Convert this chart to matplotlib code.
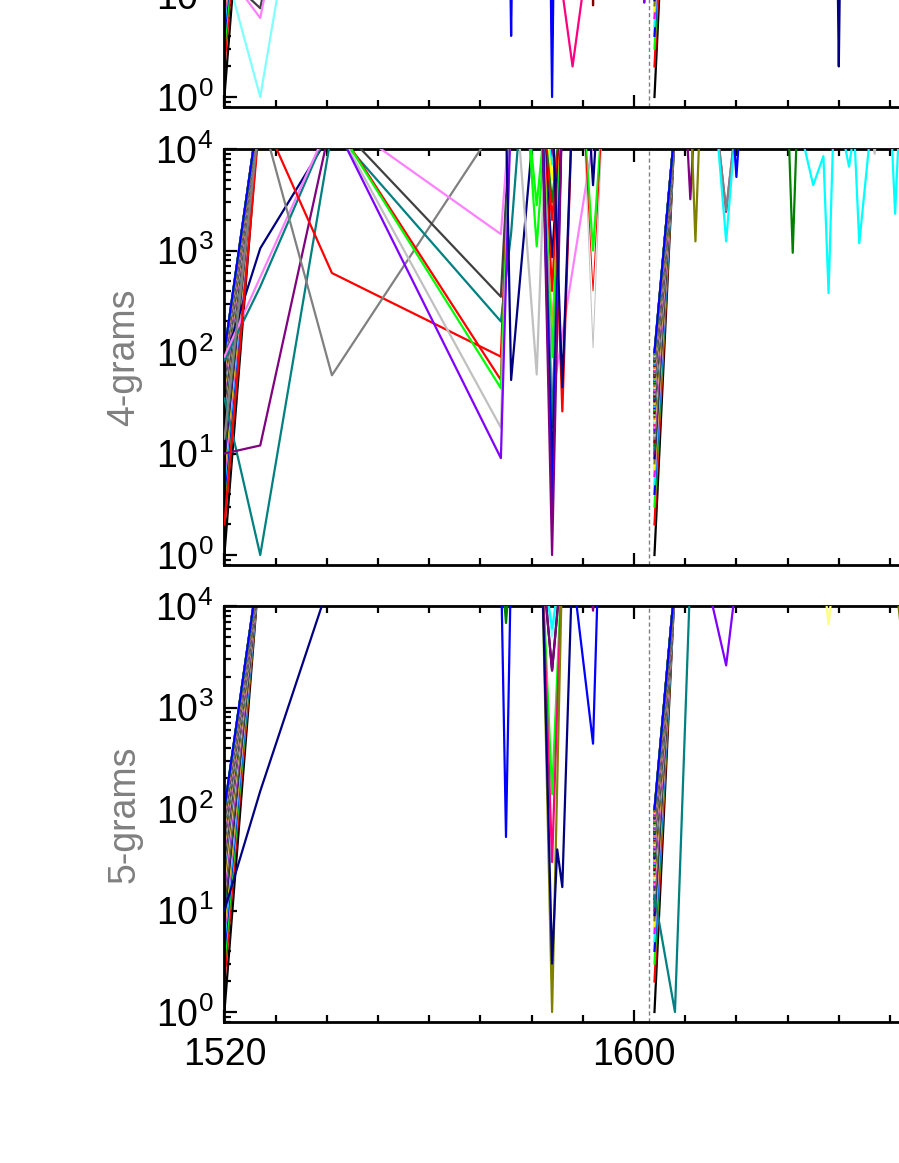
import numpy as np
import matplotlib
matplotlib.use('Agg')
import matplotlib.pyplot as plt
from matplotlib.ticker import FixedLocator, MultipleLocator, LogLocator, FuncFormatter, NullFormatter

plt.rcParams['font.family'] = ['Liberation Sans', 'DejaVu Sans']
plt.rcParams['mathtext.fontset'] = 'custom'
plt.rcParams['mathtext.rm'] = 'Liberation Sans'
plt.rcParams['mathtext.it'] = 'Liberation Sans:italic'
plt.rcParams['mathtext.bf'] = 'Liberation Sans:bold'

# ---------------- data ----------------
panel_names = ['3-grams', '4-grams', '5-grams']
x_major = [1520, 1600, 1680]
y_decades = [1, 10, 100, 1000, 10000]
marker_year = 1603

# colour cycle used for the ranked lines
palette_names = ['black', 'red', 'lime', 'blue', 'cyan', 'magenta', 'yellow', 'olive',
                 'navy', 'purple', 'teal', 'darkgreen', 'maroon', 'grey', 'silver',
                 'darkgrey', 'violet', 'pink', 'deeppink', 'lightcyan', 'lightyellow',
                 'orange', 'brown', 'lightgreen']

# ranks of the top-100 n-grams in the two reference years (1520 and 1604)
fan_ranks = [1, 2, 3, 4, 5, 6, 7, 8, 9, 10, 11, 12, 13, 14, 15, 16, 17, 18, 19, 20,
             21, 22, 23, 24, 25, 26, 27, 28, 29, 30, 31, 32, 33, 34, 35, 36, 37, 38, 39, 40,
             41, 42, 43, 44, 45, 46, 47, 48, 49, 50, 51, 52, 53, 54, 55, 56, 57, 58, 59, 60,
             61, 62, 63, 64, 65, 66, 67, 68, 69, 70, 71, 72, 73, 74, 75, 76, 77, 78, 79, 80,
             81, 82, 83, 84, 85, 86, 87, 88, 89, 90, 91, 92, 93, 94, 95, 96, 97, 98, 99, 100]
fan_a_years = [1520, 1527]
fan_a_next = 3.0e4
fan_b_years = [1604, 1608]
fan_b_next = 1.7e4

# ---- 3-grams: individual trajectories ----
g3_years = [[1520, 1527, 1541], [1520, 1527, 1541], [1520, 1527, 1541],
            [1575, 1576, 1577], [1585, 1586, 1587], [1583, 1584, 1585],
            [1583, 1584, 1585], [1583, 1584, 1585], [1584, 1588, 1592],
            [1591, 1592, 1593], [1601, 1602, 1603], [1639, 1640, 1641]]
g3_ranks = [[16, 7.5, 2e4], [18, 6, 2e4], [20, 1, 1.5e4],
            [2e4, 4, 2e4], [2e4, 10, 2e4], [2e4, 4.5, 2e4],
            [2e4, 4, 2e4], [2e4, 1, 2e4], [60, 2, 60],
            [2e4, 8, 2e4], [2e4, 8.5, 2e4], [2e4, 2, 2e4]]
g3_colors = ['darkgrey', 'pink', 'lightcyan', 'blue', 'yellow', 'silver',
             'black', 'blue', 'deeppink', 'maroon', 'violet', 'navy']

# ---- 4-grams ----
c84 = [1582, 1584, 1586]
g4_years = [[1520, 1527, 1541], [1520, 1527, 1541], [1520, 1527, 1541], [1520, 1527, 1541],
            [1520, 1541], [1520, 1527, 1541, 1574, 1576], [1520, 1527, 1541, 1574],
            [1541, 1574, 1576], [1541, 1574, 1576, 1578], [1541, 1574, 1576],
            [1541, 1574, 1576], [1541, 1574, 1576], [1541, 1574, 1576], [1541, 1574, 1576],
            [1575, 1576, 1581], [1577, 1581, 1583], [1579, 1581, 1583], [1579, 1581, 1583],
            c84, c84, c84, c84, c84, c84, c84, c84, c84, c84,
            [1582, 1584, 1592], c84, c84, c84, c84,
            [1584, 1586, 1588], [1584, 1586, 1588], [1590, 1592, 1594], [1591, 1592, 1593],
            [1610, 1611, 1612], [1611, 1612, 1613], [1616, 1618, 1620], [1616, 1618, 1620],
            [1616, 1618, 1620], [1619, 1620, 1621], [1630, 1631, 1632],
            [1633, 1635, 1637, 1638, 1639], [1641, 1642, 1643, 1644, 1646],
            [1646, 1647, 1648], [1650, 1651, 1652]]
g4_ranks = [[81, 1050, 1.5e4], [35, 1, 1.5e4], [83, 440, 1.9e4], [10, 12, 2e4],
            [90, 2e4], [2, 2.3e4, 600, 90, 3e4], [14, 2.3e4, 59, 2e4],
            [2e4, 350, 3e4], [1.6e4, 200, 1480, 3e4], [2.2e4, 1450, 3e4],
            [2e4, 53, 3e4], [2e4, 44, 3e4], [2e4, 18, 3e4], [2e4, 9, 3e4],
            [2e4, 53, 3.7e4], [3e4, 60, 3.6e4], [3e4, 1100, 3e4], [3e4, 2800, 3e4],
            [3e4, 8500, 3e4], [3e4, 7000, 3e4], [3e4, 5000, 3e4], [3e4, 3000, 3e4],
            [3e4, 2000, 3e4], [3e4, 860, 3e4], [3e4, 400, 3e4], [3e4, 120, 3e4],
            [3e4, 100, 3e4], [3e4, 89, 3e4],
            [3e4, 34, 1.2e4], [3e4, 18, 3e4], [3e4, 6.4, 3e4], [3e4, 3, 3e4], [3e4, 1, 3e4],
            [3e4, 26, 3e4], [3e4, 45, 3e4], [3e4, 1000, 3e4], [3e4, 4400, 3e4],
            [3e4, 3200, 3e4], [3e4, 1230, 3e4], [2e4, 2400, 2e4], [2e4, 2500, 2e4],
            [2e4, 1230, 2e4], [3e4, 5300, 3e4], [3e4, 950, 3e4],
            [1.2e4, 4400, 8500, 380, 2e4], [1.2e4, 6700, 1.5e4, 1180, 1.2e4],
            [3e4, 9000, 3e4], [3e4, 2300, 3e4]]
g4_colors = ['navy', 'teal', 'teal', 'purple',
             'pink', 'red', 'grey',
             'darkgrey', 'teal', 'pink', 'red', 'lime', 'silver', 'violet',
             'navy', 'silver', 'lime', 'lime',
             'violet', 'cyan', 'yellow', 'darkgreen', 'red', 'navy', 'red', 'red',
             'yellow', 'lime',
             'pink', 'teal', 'navy', 'blue', 'purple',
             'red', 'navy', 'lime', 'navy',
             'purple', 'olive', 'deeppink', 'grey', 'cyan', 'blue', 'darkgreen',
             'cyan', 'cyan', 'silver', 'cyan']
# faint (thin) trajectories
g4_faint_years = [[1590, 1592, 1594], [1590, 1592, 1594]]
g4_faint_ranks = [[3e4, 110, 3e4], [3e4, 400, 3e4]]
g4_faint_colors = ['silver', 'red']

# ---- 5-grams ----
g5_years = [[1520, 1527, 1541], [1574, 1575, 1576], [1574, 1575, 1576],
            c84, c84, c84, c84, c84, c84, c84,
            [1582, 1584, 1585, 1586, 1588], [1588, 1592, 1593], [1591, 1592, 1593],
            [1604, 1608, 1611], [1615, 1618, 1620], [1637, 1638, 1639], [1651, 1652, 1653]]
g5_ranks = [[10, 150, 2e4], [3e4, 6800, 3e4], [3e4, 53, 3e4],
            [3e4, 5000, 3e4], [3e4, 6000, 3e4], [3e4, 2340, 3e4], [3e4, 2300, 3e4],
            [3e4, 140, 3e4], [3e4, 30, 3e4], [3e4, 1, 3e4],
            [3e4, 3, 40, 17, 3e4], [2.2e4, 440, 2.2e4], [3e4, 9000, 3e4],
            [14, 1, 2e4], [1.2e4, 2600, 1.8e4], [2e4, 6600, 2e4], [2e4, 7000, 2e4]]
g5_colors = ['navy', 'darkgreen', 'blue',
             'lightcyan', 'cyan', 'black', 'purple', 'lime', 'deeppink', 'olive',
             'navy', 'blue', 'purple',
             'teal', 'violet', 'lightyellow', 'olive']

# ---------------- styles ----------------
COL = {'black': '#000000', 'red': '#ff0000', 'lime': '#00ff00', 'blue': '#0000ff',
       'cyan': '#00ffff', 'magenta': '#ff00ff', 'yellow': '#ffff00', 'olive': '#808000',
       'navy': '#000080', 'purple': '#800080', 'teal': '#008080', 'darkgreen': '#008000',
       'maroon': '#800000', 'grey': '#808080', 'silver': '#c0c0c0', 'darkgrey': '#404040',
       'violet': '#8000ff', 'pink': '#ff80ff', 'deeppink': '#ff0080', 'lightcyan': '#80ffff',
       'lightyellow': '#ffff80', 'orange': '#ff8000', 'brown': '#804000',
       'lightgreen': '#80ff80'}

panel_years = [g3_years, g4_years, g5_years]
panel_ranks = [g3_ranks, g4_ranks, g5_ranks]
panel_colors = [g3_colors, g4_colors, g5_colors]

fig = plt.figure(figsize=(8.99, 11.63), dpi=100)
left = 224.4 / 899
ax_w = 160 * 5.12 / 899
height = 416 / 1163
bottoms = [(1163 - 107) / 1163, (1163 - 565) / 1163, (1163 - 1022) / 1163]

LW = 1.6
for i, name in enumerate(panel_names):
    ax = fig.add_axes([left, bottoms[i], ax_w, height])
    ax.set_yscale('log')
    ax.set_xlim(x_major[0], x_major[-1])
    ax.set_ylim(10 ** (-0.0985), 1e4)
    ax.axvline(marker_year, color='#808080', lw=1.0, ls=(0, (3, 2)), zorder=1)

    for r in fan_ranks:
        c = COL[palette_names[(r - 1) % len(palette_names)]]
        ax.plot(fan_a_years, [r, fan_a_next], color=c, lw=LW, zorder=2)
    for r in fan_ranks:
        c = COL[palette_names[(r - 1) % len(palette_names)]]
        ax.plot(fan_b_years, [r, fan_b_next], color=c, lw=LW, zorder=2)

    for yrs, rks, cn in zip(panel_years[i], panel_ranks[i], panel_colors[i]):
        ax.plot(yrs, rks, color=COL[cn], lw=LW, zorder=3)
    if i == 1:
        for yrs, rks, cn in zip(g4_faint_years, g4_faint_ranks, g4_faint_colors):
            ax.plot(yrs, rks, color=COL[cn], lw=0.7, zorder=3)

    ax.xaxis.set_major_locator(FixedLocator(x_major))
    ax.xaxis.set_minor_locator(MultipleLocator(10))
    ax.yaxis.set_major_locator(FixedLocator(y_decades))
    ax.yaxis.set_minor_locator(LogLocator(base=10, subs=(2, 3, 4, 5, 6, 7, 8, 9)))
    ax.yaxis.set_minor_formatter(NullFormatter())
    ax.yaxis.set_major_formatter(FuncFormatter(
        lambda v, p: r'$\mathregular{10^{%d}}$' % int(round(np.log10(v)))))
    ax.tick_params(which='both', direction='in', top=True, right=True,
                   width=1.6, labelsize=27, colors='black')
    ax.tick_params(axis='y', which='major', length=9, pad=8)
    ax.tick_params(axis='y', which='minor', length=5)
    ax.tick_params(axis='x', which='major', length=9, pad=11)
    ax.tick_params(axis='x', which='minor', length=5)
    if i < 2:
        ax.tick_params(axis='x', labelbottom=False)
    for sp in ax.spines.values():
        sp.set_linewidth(2.0)
    ax.set_ylabel(name, color='#808080', fontsize=27)
    ax.yaxis.set_label_coords(-0.100, 0.5)

fig.savefig('out.png', dpi=100)
